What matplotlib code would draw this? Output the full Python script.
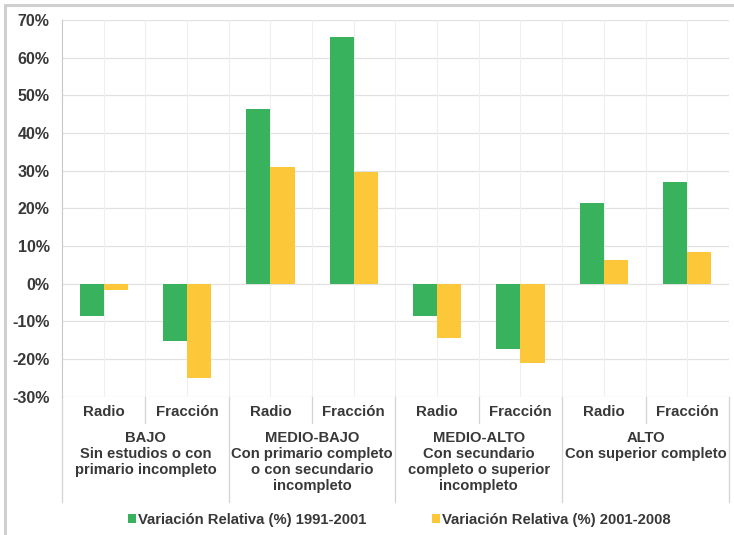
import numpy as np
import matplotlib
matplotlib.use("Agg")
import matplotlib.pyplot as plt
from matplotlib.patches import Patch, Rectangle
from matplotlib.transforms import blended_transform_factory

plt.rcParams['font.family'] = ['Liberation Sans', 'DejaVu Sans']
plt.rcParams['font.weight'] = 'bold'

# datos: variacion relativa por nivel educativo y unidad (radio / fraccion)
subcats = ["Radio", "Fracción", "Radio", "Fracción", "Radio", "Fracción", "Radio", "Fracción"]
grupos = ["BAJO\nSin estudios o con\nprimario incompleto",
          "MEDIO-BAJO\nCon primario completo\no con secundario\nincompleto",
          "MEDIO-ALTO\nCon secundario\ncompleto o superior\nincompleto",
          "ALTO\nCon superior completo"]
var_1991_2001 = [-8.6, -15.1, 46.5, 65.4, -8.5, -17.3, 21.3, 27.1]
var_2001_2008 = [-1.7, -25.0, 30.9, 29.6, -14.5, -21.0, 6.3, 8.3]
serie_nombres = ["Variación Relativa (%) 1991-2001", "Variación Relativa (%) 2001-2008"]
colores = ["#38b25c", "#fdc73a"]
yticks = [-30, -20, -10, 0, 10, 20, 30, 40, 50, 60, 70]

txt = "#383838"

fig = plt.figure(figsize=(7.34, 5.35), dpi=100)
ax = fig.add_axes([0.0845, 0.2585, 0.9085, 0.704])

x = np.arange(len(subcats))
w = 0.29
ax.bar(x - w / 2, var_1991_2001, w, color=colores[0], zorder=3)
ax.bar(x + w / 2, var_2001_2008, w, color=colores[1], zorder=3)

ax.set_xlim(-0.5, len(subcats) - 0.5)
ax.set_ylim(-30, 70)
ax.set_yticks(yticks)
ax.set_yticklabels([f"{v}%" for v in yticks], fontsize=11.5, color=txt, fontweight='bold')
ax.tick_params(axis='y', length=0, pad=9)
ax.set_xticks([])

# grilla suave
for v in yticks:
    ax.axhline(v, color="#e2e2e2", lw=0.9, zorder=1)
for xv in np.arange(-0.5, len(subcats), 0.5):
    ax.axvline(xv, color="#efefef", lw=0.8, zorder=1)

for s in ["top", "right", "bottom"]:
    ax.spines[s].set_visible(False)
ax.spines["left"].set_color("#c8c8c8")

# etiquetas de categoria en dos niveles
tr = blended_transform_factory(ax.transData, ax.transAxes)
for i, lab in enumerate(subcats):
    ax.text(i, -0.041, lab, transform=tr, ha='center', va='center',
            fontsize=10.8, color=txt, fontweight='bold')
for g, lab in enumerate(grupos):
    ax.text(2 * g + 0.5, -0.092, lab, transform=tr, ha='center', va='top',
            fontsize=10.6, color=txt, fontweight='bold', linespacing=1.18)

for xv in [-0.5, 1.5, 3.5, 5.5, 7.5]:
    ax.plot([xv, xv], [0, -0.28], transform=tr, color="#d4d4d4", lw=0.9, clip_on=False)
for xv in [0.5, 2.5, 4.5, 6.5]:
    ax.plot([xv, xv], [0, -0.07], transform=tr, color="#d4d4d4", lw=0.9, clip_on=False)

handles = [Patch(facecolor=c, edgecolor='none') for c in colores]
leg = fig.legend(handles, serie_nombres, loc='center', bbox_to_anchor=(0.544, 0.028),
                 ncol=2, frameon=False, fontsize=10.7, handlelength=0.55, handleheight=0.55,
                 handletextpad=0.15, columnspacing=4.4)
for t in leg.get_texts():
    t.set_color(txt)
    t.set_fontweight('bold')

# marco exterior
fig.patches.append(Rectangle((0.007, -0.01), 1.01, 1.0, transform=fig.transFigure,
                             fill=False, edgecolor="#cfcfcf", lw=2.2))

fig.savefig("out.png", dpi=100)
